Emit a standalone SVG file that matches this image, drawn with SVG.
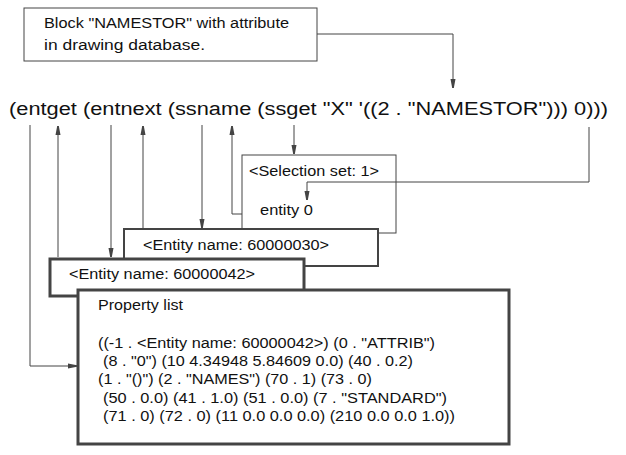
<svg xmlns="http://www.w3.org/2000/svg" width="626" height="455" viewBox="0 0 626 455">
<style>
text{font-family:"Liberation Sans",Arial,sans-serif;fill:#111}
.t{font-size:14px}
.m{font-size:18px}
.c{fill:none;stroke:#444;stroke-width:1}
.b1{fill:#fff;stroke:#444;stroke-width:1}
.b2{fill:#fff;stroke:#444;stroke-width:2}
.b3{fill:#fff;stroke:#444;stroke-width:3}
</style>
<defs>
<marker id="a" markerUnits="userSpaceOnUse" markerWidth="10" markerHeight="8" refX="9" refY="3" orient="auto">
<path d="M0,0.5 L9,2.2 L9,3.8 L0,5.5 z" fill="#444"/>
</marker>
</defs>
<rect width="626" height="455" fill="#fff"/>
<g id="note">
<rect class="b1" x="24" y="8" width="293" height="53"/>
<text class="t" x="44" y="28" textLength="245" lengthAdjust="spacingAndGlyphs">Block "NAMESTOR" with attribute</text>
<text class="t" x="44" y="50" textLength="161" lengthAdjust="spacingAndGlyphs">in drawing database.</text>
</g>
<g id="expr">
<text class="m" x="9" y="115" textLength="599" lengthAdjust="spacingAndGlyphs">(entget (entnext (ssname (ssget "X" '((2 . "NAMESTOR"))) 0)))</text>
</g>
<g id="selset">
<rect class="b1" x="242" y="155" width="154" height="78"/>
<text class="t" x="249" y="176" textLength="130" lengthAdjust="spacingAndGlyphs">&lt;Selection set: 1&gt;</text>
<text class="t" x="260" y="215" textLength="53" lengthAdjust="spacingAndGlyphs">entity 0</text>
</g>
<g id="ename30">
<rect class="b2" x="124" y="229" width="254" height="37"/>
<text class="t" x="143" y="250" textLength="186" lengthAdjust="spacingAndGlyphs">&lt;Entity name: 60000030&gt;</text>
</g>
<g id="ename42">
<rect class="b3" x="50" y="259" width="254" height="37"/>
<text class="t" x="69" y="279" textLength="186" lengthAdjust="spacingAndGlyphs">&lt;Entity name: 60000042&gt;</text>
</g>
<g id="plist">
<rect class="b3" x="78" y="290" width="431" height="154"/>
<text class="t" x="98" y="310" textLength="85" lengthAdjust="spacingAndGlyphs">Property list</text>
<text class="t" x="98" y="348" textLength="337" lengthAdjust="spacingAndGlyphs">((-1 . &lt;Entity name: 60000042&gt;) (0 . "ATTRIB")</text>
<text class="t" x="103" y="366" textLength="310" lengthAdjust="spacingAndGlyphs">(8 . "0") (10 4.34948 5.84609 0.0) (40 . 0.2)</text>
<text class="t" x="98" y="384" textLength="274" lengthAdjust="spacingAndGlyphs">(1 . "()") (2 . "NAMES") (70 . 1) (73 . 0)</text>
<text class="t" x="103" y="403" textLength="344" lengthAdjust="spacingAndGlyphs">(50 . 0.0) (41 . 1.0) (51 . 0.0) (7 . "STANDARD")</text>
<text class="t" x="103" y="421" textLength="352" lengthAdjust="spacingAndGlyphs">(71 . 0) (72 . 0) (11 0.0 0.0 0.0) (210 0.0 0.0 1.0))</text>
</g>
<g id="connectors">
<path class="c" d="M317,34 H453 V88" marker-end="url(#a)"/>
<path class="c" d="M30,125 V366 H77" marker-end="url(#a)"/>
<path class="c" d="M58,257 V126" marker-end="url(#a)"/>
<path class="c" d="M111,125 V257" marker-end="url(#a)"/>
<path class="c" d="M143,228 V126" marker-end="url(#a)"/>
<path class="c" d="M202,125 V228" marker-end="url(#a)"/>
<path class="c" d="M242,214 H232 V126" marker-end="url(#a)"/>
<path class="c" d="M294,125 V154" marker-end="url(#a)"/>
<path class="c" d="M589,127 V182 H307 V200" marker-end="url(#a)"/>
</g>
</svg>
